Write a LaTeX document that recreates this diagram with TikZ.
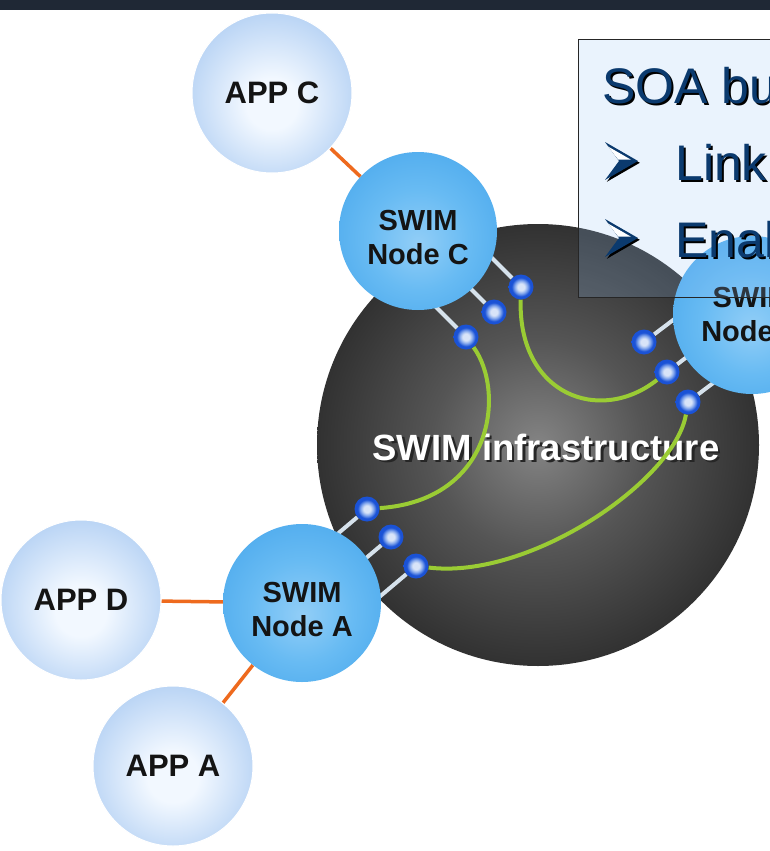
\documentclass[tikz,border=0pt]{standalone}
\usepackage{fontspec}
\setmainfont{Liberation Sans}
\definecolor{band}{HTML}{1F2835}
\definecolor{sphA}{HTML}{848484}
\definecolor{sphB}{HTML}{555555}
\definecolor{sphC}{HTML}{2C2C2C}
\definecolor{sphD}{HTML}{161616}
\definecolor{swimIn}{HTML}{92CEF7}
\definecolor{swimMid}{HTML}{68BBF3}
\definecolor{swimOut}{HTML}{48A7EC}
\definecolor{appIn}{HTML}{F2F8FF}
\definecolor{appOut}{HTML}{ABCBF2}
\definecolor{portIn}{HTML}{D8E4F8}
\definecolor{portMid}{HTML}{7FA4EC}
\definecolor{portOut}{HTML}{1A52D6}
\definecolor{wire}{HTML}{9ACC34}
\definecolor{stubc}{HTML}{D6E2EC}
\definecolor{linkc}{HTML}{EE6A1E}
\definecolor{navy}{HTML}{0B3A6E}
\definecolor{boxfill}{HTML}{96C3F5}
\pgfdeclareradialshading{sphsh}{\pgfpoint{0bp}{0bp}}{color(0bp)=(sphA); color(12bp)=(sphB); color(27bp)=(sphC); color(36bp)=(sphD); color(50bp)=(sphD)}
\pgfdeclareradialshading{swimsh}{\pgfpoint{0bp}{-4bp}}{color(0bp)=(swimIn); color(16bp)=(swimMid); color(34bp)=(swimOut); color(50bp)=(swimOut)}
\pgfdeclareradialshading{appsh}{\pgfpoint{0bp}{-4bp}}{color(0bp)=(appIn); color(8bp)=(appIn); color(32bp)=(appOut); color(50bp)=(appOut)}
\pgfdeclareradialshading{portsh}{\pgfpoint{0bp}{0bp}}{color(0bp)=(portIn); color(7bp)=(portIn); color(13bp)=(portMid); color(19bp)=(portOut); color(50bp)=(portOut)}
\pgfdeclarelayer{bg}
\pgfdeclarelayer{mid}
\pgfdeclarelayer{ports}
\pgfdeclarelayer{top}
\pgfsetlayers{bg,mid,ports,main,top}
\tikzset{
  app/.style={circle, minimum size=160pt, inner sep=0pt, shade, shading=appsh, draw=white, line width=1pt,
    font=\bfseries\fontsize{31}{34}\selectfont, text=black!92},
  swim/.style={circle, minimum size=158pt, inner sep=0pt, shade, shading=swimsh, align=center,
    font=\bfseries\fontsize{29}{34}\selectfont, text=black!92},
  sphere/.style={circle, minimum size=442pt, inner sep=0pt, shade, shading=sphsh},
  port/.style={circle, minimum size=25pt, inner sep=0pt, shade, shading=portsh},
  stubline/.style={draw=stubc, line width=4pt},
  wireline/.style={draw=wire, line width=4pt},
  linkline/.style={draw=linkc, line width=3.5pt},
  infratext/.style={font=\bfseries\fontsize{36.5}{40}\selectfont, inner sep=0pt, anchor=base},
  textbox/.style={draw=black!85, line width=1.2pt, fill=boxfill, fill opacity=0.2, anchor=north west,
    minimum width=240pt, minimum height=258pt, inner sep=0pt},
  boxtext/.style={font=\fontsize{50}{60}\selectfont, text=navy, inner sep=0pt, anchor=base west},
  boxshadow/.style={font=\fontsize{50}{60}\selectfont, text=black, inner sep=0pt, anchor=base west},
  bullet/.pic={
    \fill[black] (1.8,-17.2) -- (34.8,1.8) -- (1.8,20.8) -- (15.8,1.8) -- cycle;
    \fill[navy] (0,-19) -- (33,0) -- (0,19) -- (14,0) -- cycle;
    \fill[white] (3,-14.5) -- (26,-1.3) -- (13.3,-1.3) -- cycle;
  }
}
\begin{document}
\begin{tikzpicture}[x=1pt,y=-1pt]
\useasboundingbox (0,0) rectangle (770,851);
% main-layer nodes
\node[app] (appC) at (272,93) {APP C};
\node[app] (appD) at (81,600) {APP D};
\node[app] (appA) at (173,766) {APP A};
\node[swim] (nodeC) at (418,231) {\rule{0pt}{33pt}SWIM\\Node C};
\node[swim] (nodeA) at (302,603) {\rule{0pt}{33pt}SWIM\\Node A};
\node[swim] (nodeB) at (752,315) {SWIM\\Node B};
\begin{pgfonlayer}{bg}
  \fill[white] (0,0) rectangle (770,851);
  \fill[band] (0,0) rectangle (770,10);
  \node[sphere] (sph) at (538,445) {};
\end{pgfonlayer}
\begin{pgfonlayer}{ports}
  \node[port] (c1) at (466,337) {};
  \node[port] (c2) at (494,312) {};
  \node[port] (c3) at (521,287) {};
  \node[port] (a1) at (367,509) {};
  \node[port] (a2) at (391,537) {};
  \node[port] (a3) at (416,566) {};
  \node[port] (d1) at (644,342) {};
  \node[port] (d2) at (667,372) {};
  \node[port] (d3) at (688,402) {};
\end{pgfonlayer}
\begin{pgfonlayer}{mid}
  \node[infratext, text=black!85] (infraS) at (548.5,462.5) {SWIM infrastructure};
  \node[infratext, text=white] (infra) at (546,460) {SWIM infrastructure};
  % stubs to the SWIM nodes
  \foreach \p in {c1,c2,c3} \draw[stubline] (\p) -- ++(-40,-40);
  \foreach \p in {a1,a2,a3} \draw[stubline] (\p) -- ++(-45,38);
  \foreach \p in {d1,d2,d3} \draw[stubline] (\p) -- ++(45,-34);
  % wires
  \draw[wireline] (c1) .. controls (505,390) and (495,500) .. (a1);
  \draw[wireline] (c3) .. controls (518,395) and (600,425) .. (d2);
  \draw[wireline] (a3) .. controls (530,580) and (675,480) .. (d3);
  % application links
  \draw[linkline] (appC) -- (nodeC);
  \draw[linkline] (appD) -- (nodeA);
  \draw[linkline] (appA) -- (nodeA);
\end{pgfonlayer}
\begin{pgfonlayer}{top}
  \node[textbox] (box) at (578,39) {};
  \node[boxshadow] (t1s) at (604,105) {SOA bu};
  \node[boxtext] (t1) at (602,103) {SOA bu};
  \pic at (605,161) {bullet};
  \node[boxshadow] (t2s) at (677,182) {Link};
  \node[boxtext] (t2) at (675,180) {Link};
  \pic at (605,238) {bullet};
  \node[boxshadow] (t3s) at (677,259) {Enab};
  \node[boxtext] (t3) at (675,257) {Enab};
\end{pgfonlayer}
\end{tikzpicture}
\end{document}
